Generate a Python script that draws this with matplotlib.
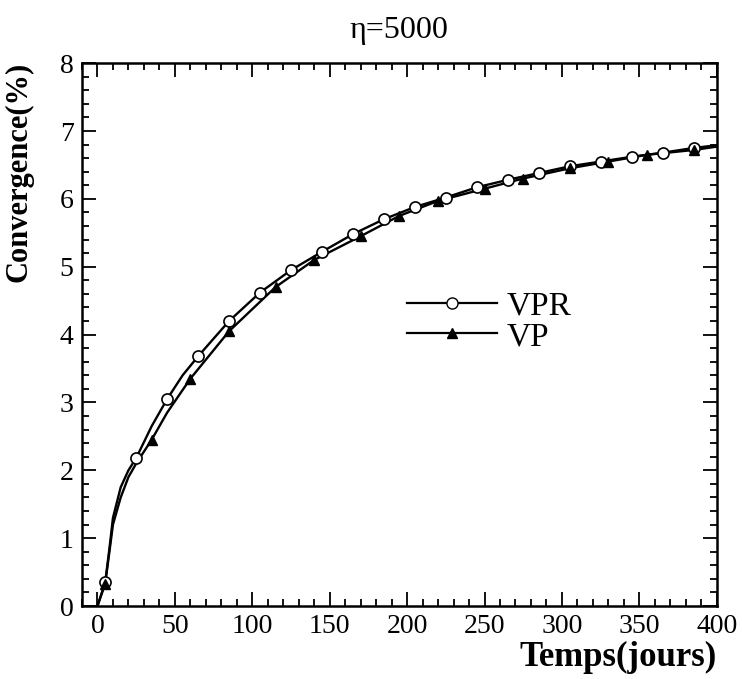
import matplotlib
matplotlib.use("Agg")
import matplotlib.pyplot as plt
from matplotlib.ticker import MultipleLocator
from matplotlib.lines import Line2D

plt.rcParams['font.family'] = ['Liberation Serif', 'DejaVu Serif']

# Markers
vpr_x = [5, 25, 45, 65, 85, 105, 125, 145, 165, 185, 205, 225, 245, 265, 285, 305, 325, 345, 365, 385]
vpr_y = [0.35, 2.18, 3.05, 3.68, 4.20, 4.62, 4.95, 5.22, 5.48, 5.70, 5.88, 6.02, 6.17, 6.28, 6.38, 6.48, 6.55, 6.62, 6.68, 6.75]
vp_x = [5, 35, 60, 85, 115, 140, 170, 195, 220, 250, 275, 305, 330, 355, 385]
vp_y = [0.33, 2.45, 3.35, 4.05, 4.70, 5.10, 5.45, 5.75, 5.97, 6.15, 6.30, 6.45, 6.55, 6.65, 6.72]

# Curves (denser near the origin)
vpr_cx = [0, 5, 8, 10, 15, 20, 25, 35, 45, 55, 65, 85, 105, 125, 145, 165, 185, 205, 225, 245, 265, 285, 305, 325, 345, 365, 385, 400]
vpr_cy = [0, 0.35, 0.9, 1.3, 1.75, 2.0, 2.18, 2.65, 3.05, 3.40, 3.68, 4.20, 4.62, 4.95, 5.22, 5.48, 5.70, 5.88, 6.02, 6.17, 6.28, 6.38, 6.48, 6.55, 6.62, 6.68, 6.75, 6.79]
vp_cx = [0, 5, 8, 10, 15, 20, 25, 35, 45, 60, 85, 115, 140, 170, 195, 220, 250, 275, 305, 330, 355, 385, 400]
vp_cy = [0, 0.33, 0.85, 1.2, 1.6, 1.9, 2.1, 2.45, 2.85, 3.35, 4.05, 4.70, 5.10, 5.45, 5.75, 5.97, 6.15, 6.30, 6.45, 6.55, 6.65, 6.72, 6.77]

fig = plt.figure(figsize=(7.42, 6.79), dpi=100)
ax = fig.add_axes([0.1105, 0.1075, 0.8555, 0.7995])

ax.plot(vpr_cx, vpr_cy, color='black', lw=1.7)
ax.plot(vp_cx, vp_cy, color='black', lw=1.7)
ax.plot(vpr_x, vpr_y, ls='none', marker='o', ms=8, mfc='white', mec='black', mew=1.2)
ax.plot(vp_x, vp_y, ls='none', marker='^', ms=7, mfc='black', mec='black')

ax.set_xlim(-10, 400)
ax.set_ylim(0, 8)
ax.xaxis.set_major_locator(MultipleLocator(50))
ax.xaxis.set_minor_locator(MultipleLocator(10))
ax.yaxis.set_major_locator(MultipleLocator(1))
ax.yaxis.set_minor_locator(MultipleLocator(0.2))
ax.tick_params(which='both', direction='in', top=True, right=True, labelsize=20, width=1.3, pad=6)
ax.tick_params(which='major', length=10)
ax.tick_params(which='minor', length=5)
for s in ax.spines.values():
    s.set_linewidth(1.8)

ax.set_title('η=5000', fontsize=23, pad=18)
ax.set_xlabel('Temps(jours)', fontsize=25, fontweight='bold', ha='right', va='center')
ax.xaxis.set_label_coords(1.0, -0.094)
ax.set_ylabel('Convergence(%)', fontsize=22, fontweight='bold', va='center')
ax.yaxis.set_label_coords(-0.10, 0.80)

handles = [Line2D([], [], color='black', lw=1.6, marker='o', ms=8, mfc='white', mec='black'),
           Line2D([], [], color='black', lw=1.6, marker='^', ms=7, mfc='black', mec='black')]
ax.legend(handles, ['VPR', 'VP'], loc='center left', bbox_to_anchor=(0.512, 0.524),
          frameon=False, fontsize=24, handlelength=2.7, handletextpad=0.3,
          labelspacing=0.0, borderpad=0, borderaxespad=0)

fig.savefig('out.png', dpi=100)
